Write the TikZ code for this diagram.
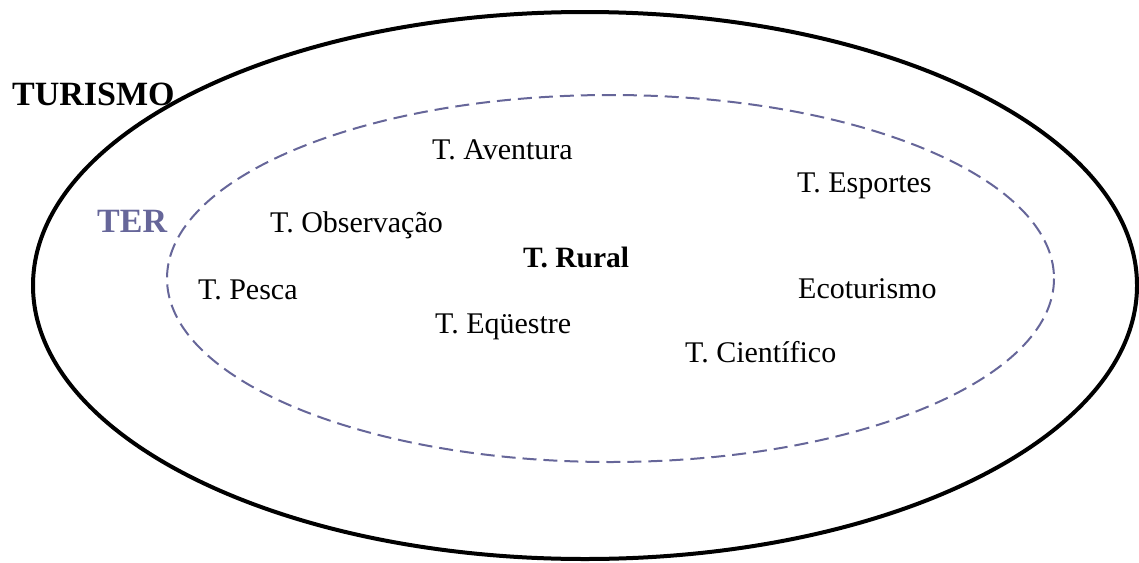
\documentclass[tikz,border=0pt]{standalone}
\usepackage{fontspec}
\setmainfont{Liberation Serif}
\definecolor{terblue}{HTML}{666699}
\begin{document}
\begin{tikzpicture}[x=1pt,y=-1pt,
  lbl/.style={anchor=base west,inner sep=0pt,font=\fontsize{30}{35}\selectfont},
  bigbold/.style={anchor=base west,inner sep=0pt,font=\fontsize{34}{40}\selectfont\bfseries},
  outerell/.style={draw=black,line width=4pt},
  innerell/.style={draw=terblue,line width=2pt,dash pattern=on 14pt off 7pt}]
\useasboundingbox (0,0) rectangle (1139,562);
\path[outerell] (585,285.5) ellipse [x radius=552, y radius=273.5];
\path[innerell] (610.5,278.5) ellipse [x radius=443.5, y radius=183.5];
\node[bigbold] (turismo) at (12,105) {TURISMO};
\node[bigbold,text=terblue] (ter) at (97,232) {TER};
\node[lbl] (aventura) at (432,159) {T. Aventura};
\node[lbl] (esportes) at (797,192) {T. Esportes};
\node[lbl] (observacao) at (270,232) {T. Observação};
\node[lbl,font=\fontsize{29.5}{34}\selectfont\bfseries] (rural) at (523,267) {T. Rural};
\node[lbl] (pesca) at (198,299) {T. Pesca};
\node[lbl] (eco) at (798,298) {Ecoturismo};
\node[lbl] (equestre) at (435,333) {T. Eqüestre};
\node[lbl] (cientifico) at (685,362) {T. Científico};
\end{tikzpicture}
\end{document}
